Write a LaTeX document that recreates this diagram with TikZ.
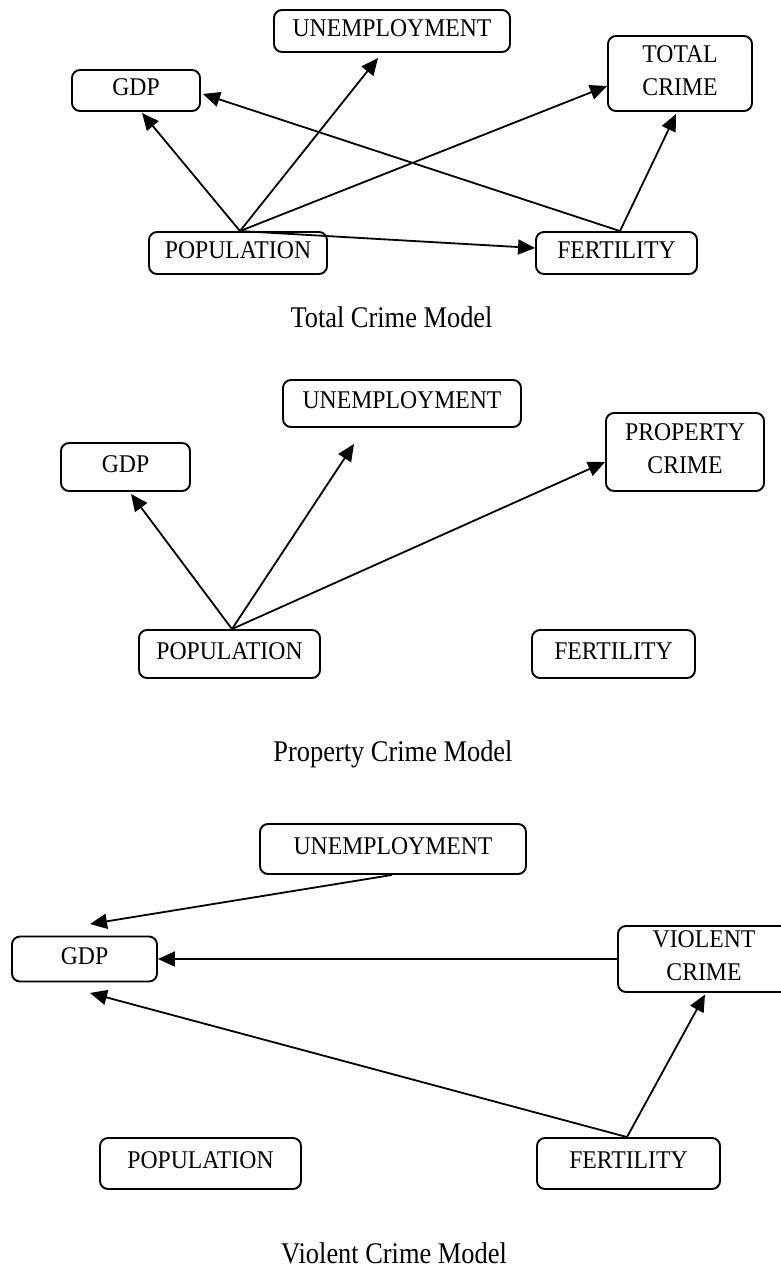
\documentclass[tikz,border=0pt]{standalone}
\usepackage{fontspec}
\setmainfont{Liberation Serif}[FakeStretch=0.93]
\newfontfamily\titlefont{Liberation Serif}[FakeStretch=0.88]
\usetikzlibrary{arrows.meta,calc}
\tikzset{
  var/.style={draw, line width=1.9pt, rounded corners=8pt, inner sep=0pt, align=center,
    font=\fontsize{25.5}{33}\selectfont, text depth=6pt},
  link/.style={line width=1.8pt, -{Triangle[length=17pt,width=15pt]}},
  caption/.style={font=\titlefont\fontsize{30}{32}\selectfont, inner sep=0pt, anchor=base}
}
\begin{document}
\begin{tikzpicture}[x=1pt,y=-1pt]
\useasboundingbox (0,0) rectangle (780,1269);

% ---------- Total Crime Model ----------
\node[var, minimum width=236pt, minimum height=42pt] (unemp1) at (392,31) {UNEMPLOYMENT};
\node[var, minimum width=128pt, minimum height=41pt] (gdp1) at (136,90.5) {GDP};
\node[var, minimum width=178pt, minimum height=42pt] (pop1) at (238,253) {POPULATION};
\node[var, minimum width=144pt, minimum height=75pt] (tot1) at (680,73.5) {TOTAL\\CRIME};
\node[var, minimum width=161pt, minimum height=42pt] (fert1) at (616.5,253) {FERTILITY};

\draw[link] ($(pop1.north)+(2,0)$) -- ($(gdp1.south)+(6,1)$);
\draw[link] ($(pop1.north)+(2,0)$) -- ($(unemp1.south)+(-14,5)$);
\draw[link] ($(pop1.north)+(2,0)$) -- ($(tot1.west)+(0,12.5)$);
\draw[link] ($(pop1.north)+(2,0)$) -- ($(fert1.west)+(0,-5)$);
\draw[link] ($(fert1.north)+(3.5,0)$) -- ($(tot1.south)+(-4,2)$);
\draw[link] ($(fert1.north)+(3.5,0)$) -- ($(gdp1.east)+(2,3.5)$);

\node[caption] (cap1) at (391.5,327) {Total Crime Model};

% ---------- Property Crime Model ----------
\node[var, minimum width=238pt, minimum height=47pt] (unemp2) at (402,403.5) {UNEMPLOYMENT};
\node[var, minimum width=129pt, minimum height=48pt] (gdp2) at (125.5,467) {GDP};
\node[var, minimum width=158pt, minimum height=78pt] (prop2) at (685,452) {PROPERTY\\CRIME};
\node[var, minimum width=181pt, minimum height=48pt] (pop2) at (229.5,654) {POPULATION};
\node[var, minimum width=163pt, minimum height=48pt] (fert2) at (613.5,654) {FERTILITY};

\draw[link] ($(pop2.north)+(2.5,0)$) -- ($(gdp2.south)+(5.5,2)$);
\draw[link] ($(pop2.north)+(2.5,0)$) -- ($(unemp2.south)+(-48,16)$);
\draw[link] ($(pop2.north)+(2.5,0)$) -- ($(prop2.west)+(0,10)$);

\node[caption] (cap2) at (393,761) {Property Crime Model};

% ---------- Violent Crime Model ----------
\node[var, minimum width=266pt, minimum height=50pt] (unemp3) at (393,849) {UNEMPLOYMENT};
\node[var, minimum width=145pt, minimum height=45pt] (gdp3) at (84.5,959) {GDP};
\node[var, minimum width=172pt, minimum height=66pt] (viol3) at (704,959) {VIOLENT\\CRIME};
\node[var, minimum width=201pt, minimum height=51pt] (pop3) at (200.5,1163.5) {POPULATION};
\node[var, minimum width=183pt, minimum height=51pt] (fert3) at (628.5,1163.5) {FERTILITY};

\draw[link] ($(unemp3.south)+(-1,0)$) -- ($(gdp3.north)+(5.5,-11.5)$);
\draw[link] (viol3.west) -- (gdp3.east);
\draw[link] ($(fert3.north)+(-1.5,0)$) -- ($(gdp3.south)+(5.5,10.5)$);
\draw[link] ($(fert3.north)+(-1.5,0)$) -- ($(viol3.south)+(1,1.5)$);

\node[caption] (cap3) at (394,1263) {Violent Crime Model};
\end{tikzpicture}
\end{document}
